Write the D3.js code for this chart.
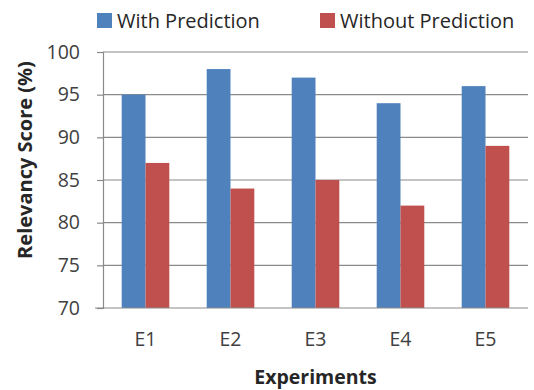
<!DOCTYPE html>
<html><head><meta charset="utf-8">
<script src="https://cdn.jsdelivr.net/npm/d3@7"></script>
<style>body{margin:0;background:#fff}text{font-family:"Open Sans",Lato,sans-serif}</style>
</head><body>
<svg id="c" width="534" height="390"></svg>
<script>
const categories = ["E1","E2","E3","E4","E5"];
const seriesNames = ["With Prediction","Without Prediction"];
const withPrediction = [95,98,97,94,96];
const withoutPrediction = [87,84,85,82,89];
const yTicks = [70,75,80,85,90,95,100];
const colors = ["#4F81BD","#C0504D"];

const svg = d3.select("#c");
const m = {l:103, r:6, t:52, b:82};
const W = 534, H = 390;
const x = d3.scaleBand().domain(categories).range([m.l, W-m.r]).paddingInner(0.44).paddingOuter(0.22);
const x1 = d3.scaleBand().domain(seriesNames).range([0, x.bandwidth()]);
const y = d3.scaleLinear().domain([70,100]).range([H-m.b, m.t]);

// gridlines
svg.append("g").selectAll("line").data(yTicks.slice(1)).join("line")
  .attr("x1", m.l).attr("x2", W-m.r).attr("y1", d=>y(d)).attr("y2", d=>y(d))
  .attr("stroke","#8a8a8a").attr("stroke-width",1.2);

// y axis
const ya = svg.append("g").attr("transform",`translate(${m.l},0)`)
  .call(d3.axisLeft(y).tickValues(yTicks).tickSize(6).tickPadding(17));
ya.selectAll("line,path").attr("stroke","#8a8a8a").attr("stroke-width",1.2);
ya.selectAll("text").attr("font-size",19.5).attr("fill","#404040").attr("font-family","'Open Sans',sans-serif");

const data = categories.map((c,i)=>({c, vals:[withPrediction[i], withoutPrediction[i]]}));
svg.append("g").selectAll("g").data(data).join("g")
  .attr("transform", d=>`translate(${x(d.c)},0)`)
  .selectAll("rect").data(d=>d.vals.map((v,j)=>({v,j}))).join("rect")
  .attr("x", d=>x1(seriesNames[d.j])).attr("width", x1.bandwidth())
  .attr("y", d=>y(d.v)).attr("height", d=>y(70)-y(d.v))
  .attr("fill", d=>colors[d.j]);

// x axis
const xa = svg.append("g").attr("transform",`translate(0,${y(70)})`)
  .call(d3.axisBottom(x).tickSize(0).tickPadding(24));
xa.select(".domain").attr("stroke","#8a8a8a").attr("stroke-width",1.2).attr("d",`M${m.l-8},0H${W-m.r}`);
xa.selectAll("text").attr("font-size",19.5).attr("fill","#404040").attr("font-family","'Open Sans',sans-serif");

svg.append("text").attr("x",(m.l+W-m.r)/2).attr("y",384).attr("text-anchor","middle")
  .attr("font-size",19.5).attr("font-weight","bold").attr("fill","#262626").text("Experiments");
svg.append("text").attr("transform",`translate(32,160) rotate(-90)`).attr("text-anchor","middle")
  .attr("font-size",20).attr("font-weight","bold").attr("fill","#262626").text("Relevancy Score (%)");

// legend
const legX = [97, 320];
const lg = svg.append("g").selectAll("g").data(seriesNames).join("g")
  .attr("transform",(d,i)=>`translate(${legX[i]},13)`);
lg.append("rect").attr("width",15).attr("height",15).attr("fill",(d,i)=>colors[i]);
lg.append("text").attr("x",20).attr("y",15).attr("font-size",20).attr("fill","#262626").text(d=>d);
</script>
</body></html>
